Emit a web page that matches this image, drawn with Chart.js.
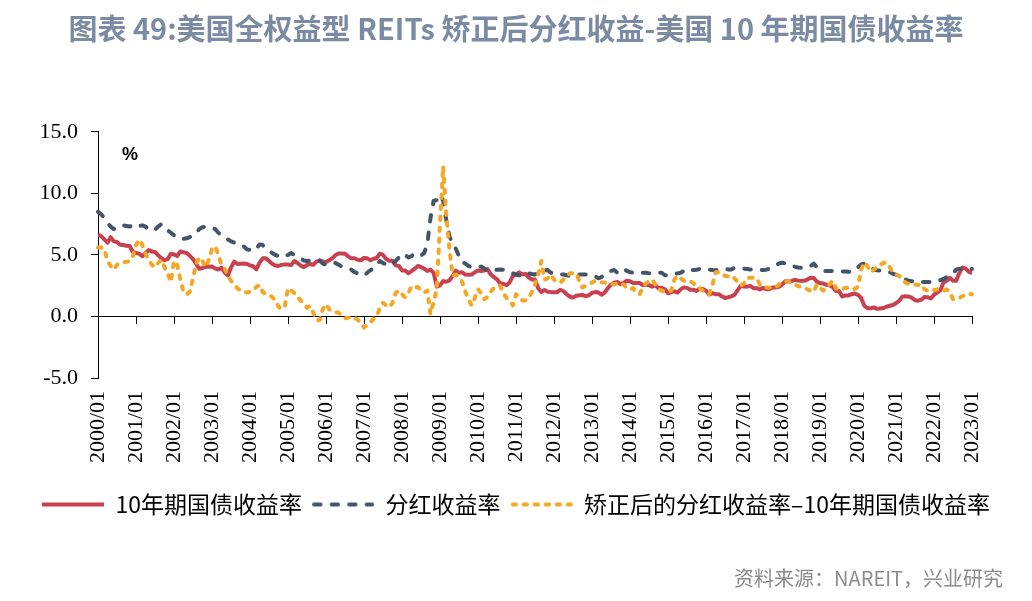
<!DOCTYPE html>
<html lang="zh">
<head>
<meta charset="utf-8">
<title>美国全权益型 REITs 矫正后分红收益-美国 10 年期国债收益率</title>
<script src="https://cdn.jsdelivr.net/npm/chart.js@4.4.1/dist/chart.umd.min.js"></script>
<style>
  html, body { margin: 0; padding: 0; background: #fff; }
  #wrap { width: 1032px; height: 601px; }
</style>
</head>
<body>
<div id="wrap"><canvas id="reitChart" width="1032" height="601"></canvas></div>
<script>
// tick labels, one per January (2000/01 .. 2023/01)
const years = ['2000/01', '2001/01', '2002/01', '2003/01', '2004/01', '2005/01', '2006/01', '2007/01',
    '2008/01', '2009/01', '2010/01', '2011/01', '2012/01', '2013/01', '2014/01', '2015/01', '2016/01',
    '2017/01', '2018/01', '2019/01', '2020/01', '2021/01', '2022/01', '2023/01'];

// 10年期国债收益率, monthly, %
const treasury10y = [
    6.66, 6.52, 6.26, 5.99, 6.44, 6.10, 6.05, 5.83, 5.80, 5.74, 5.72, 5.24,
    5.16, 5.10, 4.89, 5.14, 5.39, 5.28, 5.24, 4.97, 4.73, 4.57, 4.65, 5.09,
    5.04, 4.91, 5.28, 5.21, 5.16, 4.93, 4.65, 4.26, 3.87, 3.94, 4.05, 4.03,
    4.05, 3.90, 3.81, 3.96, 3.57, 3.33, 3.98, 4.45, 4.27, 4.29, 4.30, 4.27,
    4.15, 4.08, 3.83, 4.35, 4.72, 4.73, 4.50, 4.28, 4.13, 4.10, 4.19, 4.23,
    4.22, 4.17, 4.50, 4.34, 4.14, 4.00, 4.18, 4.26, 4.20, 4.46, 4.54, 4.47,
    4.42, 4.57, 4.72, 4.99, 5.11, 5.11, 5.09, 4.88, 4.72, 4.73, 4.60, 4.56,
    4.76, 4.72, 4.56, 4.69, 4.75, 5.10, 5.00, 4.67, 4.52, 4.53, 4.15, 4.10,
    3.74, 3.74, 3.51, 3.68, 3.88, 4.10, 4.01, 3.89, 3.69, 3.81, 3.53, 2.42,
    2.52, 2.87, 2.82, 2.93, 3.29, 3.72, 3.56, 3.59, 3.40, 3.39, 3.40, 3.59,
    3.73, 3.69, 3.73, 3.85, 3.42, 3.20, 3.01, 2.70, 2.65, 2.54, 2.76, 3.29,
    3.39, 3.58, 3.41, 3.46, 3.17, 3.00, 3.00, 2.30, 1.98, 2.15, 2.01, 1.98,
    1.97, 1.97, 2.17, 2.05, 1.80, 1.62, 1.53, 1.68, 1.72, 1.75, 1.65, 1.72,
    1.91, 1.98, 1.96, 1.76, 1.93, 2.30, 2.58, 2.74, 2.81, 2.62, 2.72, 2.90,
    2.86, 2.71, 2.72, 2.71, 2.56, 2.60, 2.54, 2.42, 2.53, 2.30, 2.33, 2.21,
    1.88, 1.98, 2.04, 1.94, 2.20, 2.36, 2.32, 2.17, 2.17, 2.07, 2.26, 2.24,
    2.09, 1.78, 1.89, 1.81, 1.81, 1.64, 1.50, 1.56, 1.63, 1.76, 2.14, 2.49,
    2.43, 2.42, 2.48, 2.30, 2.30, 2.19, 2.32, 2.21, 2.20, 2.36, 2.35, 2.40,
    2.58, 2.86, 2.84, 2.87, 2.98, 2.91, 2.89, 2.89, 3.00, 3.15, 3.12, 2.83,
    2.71, 2.68, 2.57, 2.53, 2.40, 2.07, 2.06, 1.63, 1.70, 1.71, 1.81, 1.86,
    1.76, 1.50, 0.87, 0.66, 0.67, 0.73, 0.62, 0.65, 0.68, 0.79, 0.87, 0.93,
    1.08, 1.26, 1.61, 1.64, 1.62, 1.52, 1.32, 1.28, 1.37, 1.58, 1.56, 1.47,
    1.76, 1.93, 2.13, 2.75, 2.90, 3.14, 2.90, 2.90, 3.52, 3.98, 3.89, 3.62,
    3.53
];

// 分红收益率, monthly, %
const dividendYield = [
    8.50, 8.30, 8.00, 7.60, 7.30, 7.10, 7.30, 7.40, 7.40, 7.35, 7.30, 7.40,
    7.50, 7.35, 7.40, 7.30, 7.10, 6.95, 7.05, 7.30, 7.50, 7.30, 7.00, 6.80,
    6.60, 6.45, 6.30, 6.30, 6.35, 6.45, 6.55, 6.80, 7.10, 7.25, 7.30, 7.30,
    7.20, 7.10, 6.80, 6.60, 6.40, 6.25, 6.10, 6.00, 5.90, 5.85, 5.70, 5.45,
    5.40, 5.30, 5.50, 5.85, 5.80, 5.50, 5.30, 5.15, 5.00, 4.90, 4.80, 4.90,
    5.00, 5.15, 5.00, 4.85, 4.70, 4.55, 4.50, 4.55, 4.60, 4.60, 4.55, 4.30,
    4.20, 4.20, 4.35, 4.35, 4.20, 4.05, 3.95, 3.88, 3.80, 3.60, 3.50, 3.40,
    3.30, 3.55, 3.75, 3.90, 4.20, 4.50, 4.35, 4.20, 4.10, 4.30, 4.50, 4.80,
    5.10, 5.00, 4.80, 4.90, 5.10, 5.10, 4.95, 5.15, 5.90, 8.00, 9.40, 9.45,
    9.90, 9.40, 7.80, 6.50, 5.90, 5.50, 4.90, 4.40, 4.30, 4.10, 4.00, 3.95,
    4.00, 4.05, 3.90, 3.70, 3.70, 3.75, 3.80, 3.82, 3.80, 3.70, 3.55, 3.50,
    3.40, 3.35, 3.30, 3.28, 3.50, 3.45, 3.41, 3.55, 3.69, 3.75, 3.77, 3.55,
    3.50, 3.45, 3.42, 3.41, 3.35, 3.28, 3.30, 3.35, 3.40, 3.40, 3.40, 3.41,
    3.35, 3.28, 3.10, 3.20, 3.40, 3.60, 3.70, 3.77, 3.55, 3.70, 3.88, 3.70,
    3.60, 3.55, 3.50, 3.52, 3.55, 3.55, 3.50, 3.50, 3.52, 3.55, 3.55, 3.35,
    3.35, 3.41, 3.45, 3.50, 3.55, 3.70, 3.88, 3.80, 3.77, 3.80, 3.85, 3.88,
    3.88, 3.80, 3.77, 3.75, 3.80, 3.85, 3.85, 3.82, 3.82, 3.96, 3.95, 3.90,
    3.88, 3.85, 3.82, 3.80, 3.77, 3.77, 3.77, 3.80, 3.88, 4.00, 4.15, 4.30,
    4.36, 4.32, 4.28, 4.15, 4.05, 3.98, 3.96, 3.96, 3.96, 4.09, 4.30, 4.00,
    3.80, 3.70, 3.69, 3.69, 3.69, 3.69, 3.68, 3.66, 3.65, 3.63, 3.63, 3.70,
    4.00, 4.23, 4.30, 4.15, 3.95, 3.80, 3.75, 3.72, 3.70, 3.69, 3.60, 3.47,
    3.40, 3.28, 3.10, 3.00, 2.90, 2.87, 2.80, 2.80, 2.79, 2.79, 2.79, 2.79,
    2.79, 2.85, 2.95, 3.05, 3.20, 3.35, 3.50, 3.80, 3.88, 3.88, 3.85, 3.85,
    3.85
];

// 矫正后的分红收益率-10年期国债收益率, monthly, %
const adjustedSpread = [
    5.60, 5.60, 5.50, 4.50, 4.10, 3.80, 4.20, 4.30, 4.40, 4.45, 4.50, 4.90,
    5.80, 6.25, 5.80, 5.10, 4.60, 4.20, 4.00, 4.35, 4.60, 4.00, 3.50, 2.80,
    4.50, 4.20, 3.00, 2.00, 1.80, 2.00, 3.10, 4.30, 4.80, 4.50, 4.00, 4.60,
    5.50, 5.70, 5.00, 4.20, 3.90, 3.30, 2.90, 2.60, 2.30, 2.10, 2.00, 1.95,
    2.00, 2.15, 2.40, 2.55, 2.00, 1.80, 1.70, 1.60, 1.30, 0.80, 0.60, 0.80,
    2.30, 2.10, 1.90, 1.60, 1.30, 1.00, 0.70, 0.85, 0.30, -0.30, -0.30, 0.60,
    1.00, 0.60, 0.40, 0.35, 0.30, 0.10, -0.15, -0.10, -0.03, -0.10, -0.25, -0.55,
    -0.90, -0.70, -0.50, -0.20, 0.00, 0.70, 1.10, 0.90, 0.75, 1.10, 1.90, 2.10,
    1.80, 1.55, 1.90, 2.45, 2.35, 2.40, 2.10, 1.95, 2.10, 0.20, 1.20, 2.30,
    7.50, 12.20, 8.20, 5.40, 3.30, 3.40, 3.20, 2.80, 2.00, 1.40, 0.90, 1.50,
    2.20, 1.90, 1.40, 1.60, 2.00, 2.30, 2.50, 2.50, 1.90, 1.50, 1.25, 0.90,
    1.80, 1.60, 1.30, 1.30, 1.50, 2.00, 2.60, 3.40, 4.50, 3.00, 3.10, 3.40,
    3.00, 2.80, 2.75, 3.00, 3.30, 3.50, 3.50, 3.50, 2.90, 2.35, 2.50, 2.65,
    2.75, 2.90, 2.80, 2.75, 2.75, 2.70, 2.65, 2.60, 2.70, 2.60, 2.60, 2.30,
    2.20, 2.30, 1.90, 1.80, 2.30, 2.70, 2.85, 3.00, 2.60, 2.20, 2.10, 2.00,
    2.00, 2.10, 3.00, 3.30, 3.10, 2.90, 2.85, 2.87, 2.70, 2.50, 2.30, 2.10,
    1.90, 1.80, 2.50, 3.60, 3.60, 3.50, 3.30, 3.25, 3.33, 3.10, 2.80, 2.50,
    2.70, 3.10, 3.15, 3.15, 3.10, 2.60, 2.40, 2.35, 2.33, 2.35, 2.35, 2.60,
    2.80, 2.87, 2.85, 2.70, 2.60, 2.47, 2.40, 2.33, 2.20, 2.10, 2.00, 2.60,
    2.35, 2.10, 2.30, 2.60, 2.90, 2.30, 2.15, 2.20, 2.33, 2.30, 2.20, 2.25,
    2.40, 3.80, 4.40, 4.10, 3.60, 3.80, 4.00, 4.20, 4.35, 4.40, 4.00, 3.60,
    3.40, 3.30, 3.00, 2.75, 2.65, 2.60, 2.60, 2.55, 2.60, 2.20, 2.10, 2.06,
    2.15, 2.20, 2.10, 2.06, 2.20, 2.00, 1.40, 1.40, 1.50, 1.65, 1.75, 1.85,
    1.80
];

const seriesNames = ['10年期国债收益率', '分红收益率', '矫正后的分红收益率–10年期国债收益率'];
const titleText = '图表 49:美国全权益型 REITs 矫正后分红收益-美国 10 年期国债收益率';
const sourceText = '资料来源：NAREIT，兴业研究';
const unitText = '%';

const colors = {
    red: '#c8414f',
    blue: '#44546a',
    yellow: '#f5a623',
    title: '#7b8ba4',
    source: '#8c8c8c'
};

const serif = '"Liberation Serif", "Times New Roman", serif';
const cjk = '"Noto Sans CJK SC", "Noto Sans", sans-serif';
const lineWidth = 4;
const legendLineLength = 62;

// month index 0 = 2000/01
const monthIndex = treasury10y.map((_, i) => i);
const lastMonth = (years.length - 1) * 12;

// strokes a polyline as dashes by walking along it (no reliance on setLineDash)
function strokeDashed(ctx, pts, pattern) {
    if (!pattern || !pattern.length) {
        ctx.beginPath();
        pts.forEach((p, i) => i ? ctx.lineTo(p.x, p.y) : ctx.moveTo(p.x, p.y));
        ctx.stroke();
        return;
    }
    let k = 0;
    let left = pattern[0];
    let on = true;
    ctx.beginPath();
    ctx.moveTo(pts[0].x, pts[0].y);
    for (let i = 1; i < pts.length; i++) {
        let x0 = pts[i - 1].x, y0 = pts[i - 1].y;
        const x1 = pts[i].x, y1 = pts[i].y;
        let len = Math.hypot(x1 - x0, y1 - y0);
        while (len > left) {
            const t = left / len;
            const nx = x0 + (x1 - x0) * t;
            const ny = y0 + (y1 - y0) * t;
            if (on) ctx.lineTo(nx, ny); else ctx.moveTo(nx, ny);
            x0 = nx; y0 = ny;
            len -= left;
            on = !on;
            k = (k + 1) % pattern.length;
            left = pattern[k];
        }
        if (on) ctx.lineTo(x1, y1);
        left -= len;
    }
    ctx.stroke();
}

// small canvas used as the legend sample for a series
function legendSample(color, pattern) {
    const c = document.createElement('canvas');
    c.width = legendLineLength;
    c.height = 8;
    const g = c.getContext('2d');
    g.strokeStyle = color;
    g.lineWidth = lineWidth;
    g.lineCap = pattern.length ? 'round' : 'butt';
    const pad = pattern.length ? lineWidth / 2 : 0;
    strokeDashed(g, [{ x: pad, y: 4 }, { x: legendLineLength - pad, y: 4 }], pattern);
    return c;
}

const dashPlugin = {
    id: 'manualDash',
    afterDatasetsDraw(chart) {
        const ctx = chart.ctx;
        // later series are drawn on top
        chart.data.datasets.forEach((ds, i) => {
            if (!ds.dashPattern) return;
            const meta = chart.getDatasetMeta(i);
            if (meta.hidden) return;
            const pts = meta.data.map(p => ({ x: p.x, y: p.y }));
            ctx.save();
            ctx.setLineDash([]);
            ctx.strokeStyle = ds.borderColor;
            ctx.lineWidth = ds.borderWidth;
            ctx.lineJoin = 'round';
            ctx.lineCap = 'round';
            strokeDashed(ctx, pts, ds.dashPattern);
            ctx.restore();
        });
    }
};

// unit label and source line
const notesPlugin = {
    id: 'notes',
    afterDraw(chart) {
        const { ctx, chartArea } = chart;
        ctx.save();
        ctx.textBaseline = 'middle';
        ctx.fillStyle = '#000';
        ctx.font = 'bold 18px "Liberation Sans", Arial, sans-serif';
        ctx.textAlign = 'center';
        ctx.fillText(unitText, chartArea.left + 32, chartArea.top + 23);

        ctx.fillStyle = colors.source;
        ctx.font = '20px ' + cjk;
        ctx.textAlign = 'right';
        ctx.fillText(sourceText, chart.width - 29, chart.height - 23);
        ctx.restore();
    }
};

function lineDataset(label, data, color, dash, order) {
    const dashed = dash.length > 0;
    return {
        label,
        data,
        borderColor: color,
        backgroundColor: color,
        borderWidth: lineWidth,
        borderJoinStyle: 'round',
        showLine: !dashed,
        dashPattern: dashed ? dash : null,
        pointRadius: 0,
        pointStyle: legendSample(color, dash),
        tension: 0,
        order
    };
}

const ctx = document.getElementById('reitChart').getContext('2d');
const chart = new Chart(ctx, {
    type: 'line',
    data: {
        labels: monthIndex,
        datasets: [
            lineDataset(seriesNames[0], treasury10y, colors.red, [], 3),
            // round caps add half a line width to each end of a dash
            lineDataset(seriesNames[1], dividendYield, colors.blue, [6.5, 11], 2),
            lineDataset(seriesNames[2], adjustedSpread, colors.yellow, [3.5, 7.5], 1)
        ]
    },
    options: {
        responsive: false,
        animation: false,
        layout: { padding: { left: 0, right: 0, top: 0, bottom: 75 } },
        scales: {
            // axis line drawn through 0 with yearly tick marks
            x: {
                type: 'linear',
                position: { y: 0 },
                min: 0,
                max: lastMonth,
                border: { display: true, color: '#000', width: 1 },
                grid: { display: true, drawOnChartArea: false, drawTicks: true, tickLength: 7, color: '#000' },
                ticks: { display: false, stepSize: 12 }
            },
            // year labels along the bottom
            xLabels: {
                type: 'linear',
                position: 'bottom',
                min: 0,
                max: lastMonth,
                border: { display: false },
                grid: { display: false, drawTicks: false },
                ticks: {
                    stepSize: 12,
                    autoSkip: false,
                    minRotation: 90,
                    maxRotation: 90,
                    padding: 13,
                    color: '#000',
                    font: { family: serif, size: 22 },
                    callback: v => years[v / 12]
                },
                afterFit: scale => { scale.height = 105; }
            },
            y: {
                min: -5,
                max: 15,
                border: { display: true, color: '#000', width: 1 },
                grid: { display: true, drawOnChartArea: false, drawTicks: true, tickLength: 7, color: '#000' },
                ticks: {
                    stepSize: 5,
                    padding: 13,
                    color: '#000',
                    font: { family: serif, size: 22 },
                    callback: v => v.toFixed(1)
                },
                afterFit: scale => { scale.width = 98; }
            },
            yRight: {
                position: 'right',
                border: { display: false },
                grid: { display: false },
                ticks: { display: false },
                afterFit: scale => { scale.width = 60; }
            }
        },
        plugins: {
            title: {
                display: true,
                text: titleText,
                color: colors.title,
                font: { family: cjk, size: 29, weight: 'bold' },
                padding: { top: 12, bottom: 85 }
            },
            legend: {
                position: 'bottom',
                labels: {
                    usePointStyle: true,
                    pointStyleWidth: legendLineLength,
                    padding: 10,
                    color: '#000',
                    font: { family: cjk, size: 23 },
                    sort: (a, b) => a.datasetIndex - b.datasetIndex
                }
            },
            tooltip: { enabled: false }
        }
    },
    plugins: [dashPlugin, notesPlugin]
});
</script>
</body>
</html>
